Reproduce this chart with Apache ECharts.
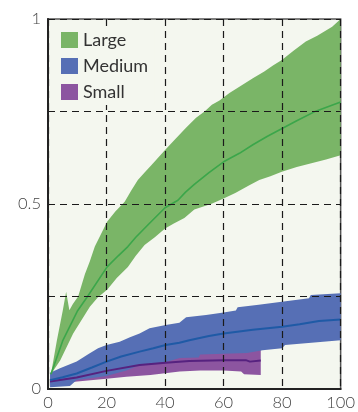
<!DOCTYPE html>
<html>
<head>
<meta charset="utf-8">
<script src="https://cdn.jsdelivr.net/npm/echarts@6/dist/echarts.min.js"></script>
<style>
html,body{margin:0;padding:0;background:#fff;}
#chart{width:358px;height:412px;}
</style>
</head>
<body>
<div id="chart"></div>
<script>
var seriesNames = ['Large', 'Medium', 'Small'];
var xTicks = [0, 20, 40, 60, 80, 100];
var yLabelValues = [0, 0.5, 1];

var largeUpper = [[1,0.04],[3,0.13],[5,0.21],[6.2,0.263],[7.3,0.213],[8.5,0.23],[10.3,0.25],[12.6,0.31],[14.3,0.345],[16,0.385],[20.2,0.452],[23,0.48],[26.2,0.506],[28.5,0.537],[30.7,0.565],[33,0.585],[35.3,0.605],[40,0.646],[43.2,0.673],[47,0.705],[50.6,0.733],[53.5,0.75],[56,0.768],[58.6,0.78],[62,0.80],[65.4,0.817],[70,0.84],[73.9,0.858],[77,0.875],[79.9,0.889],[84,0.915],[88.1,0.939],[92,0.955],[97.1,0.979],[100,1.0]];
var largeLower = [[1,0.04],[4.2,0.078],[8.6,0.15],[14.3,0.222],[17,0.247],[20.2,0.268],[23.5,0.3],[27.3,0.33],[30,0.36],[33,0.389],[36.5,0.41],[40,0.434],[43,0.447],[46.6,0.462],[50,0.485],[55.7,0.50],[60,0.515],[64,0.53],[68.8,0.551],[72.2,0.565],[76,0.575],[79.9,0.587],[85,0.60],[90,0.61],[95,0.62],[100,0.632]];
var largeMid = [[1,0.04],[5,0.13],[10,0.21],[13.5,0.25],[20.2,0.33],[24,0.36],[27.3,0.385],[30,0.41],[34.7,0.448],[40,0.49],[44.4,0.51],[47,0.532],[50,0.553],[55,0.585],[60,0.614],[65.4,0.637],[70,0.66],[75,0.683],[80,0.704],[85,0.725],[91.5,0.751],[100,0.776]];

var mediumUpper = [[0.7,0.044],[4.1,0.056],[9.8,0.074],[14,0.095],[17.1,0.11],[20,0.119],[24.5,0.128],[28,0.14],[31.3,0.15],[34.7,0.164],[40.2,0.173],[44.9,0.179],[47.2,0.194],[54,0.2],[60,0.207],[64.2,0.212],[64.8,0.221],[72,0.228],[79.9,0.236],[89.2,0.245],[89.8,0.254],[100,0.259]];
var mediumLower = [[0.7,0.005],[7.5,0.008],[9.8,0.024],[15,0.03],[20,0.035],[23,0.042],[26.8,0.05],[31.3,0.065],[40,0.072],[45,0.084],[51.5,0.085],[52,0.093],[68,0.097],[73.3,0.105],[80,0.11],[81,0.119],[90,0.125],[100,0.132]];
var mediumMid = [[0.7,0.024],[5,0.032],[9.8,0.042],[15,0.058],[20,0.074],[25,0.088],[31.3,0.101],[36,0.11],[40.2,0.119],[44.9,0.125],[48.3,0.132],[55,0.143],[60,0.15],[70,0.16],[80,0.168],[86,0.175],[92.6,0.184],[100,0.188]];

var smallUpper = [[0.7,0.03],[10,0.04],[20,0.055],[26.8,0.06],[31.3,0.07],[40,0.077],[45,0.088],[51.5,0.09],[52,0.098],[68,0.102],[72.7,0.106]];
var smallLower = [[0.7,0.012],[10,0.02],[20,0.028],[26.8,0.033],[35,0.038],[45,0.047],[52,0.05],[60,0.05],[66,0.047],[67,0.04],[72.7,0.038]];
var smallMid = [[0.7,0.02],[9.8,0.031],[20,0.049],[31.3,0.065],[40.2,0.071],[48.3,0.076],[60,0.078],[67.6,0.078],[69,0.074],[72.7,0.077]];

var bandColors = ['#7ab567', '#566fb5', '#8c55a0'];
var lineColors = ['#3ba64a', '#1f5aa6', '#56227f'];

function band(name, upper, lower, color, z) {
  return {
    name: name,
    type: 'custom',
    z: z,
    clip: true,
    itemStyle: { color: color },
    data: [[0, 0]],
    renderItem: function (params, api) {
      var pts = upper.map(function (p) { return api.coord(p); })
        .concat(lower.slice().reverse().map(function (p) { return api.coord(p); }));
      return { type: 'polygon', shape: { points: pts }, style: { fill: color } };
    }
  };
}
function mid(name, data, color, width) {
  return {
    name: name + ' mid',
    type: 'line',
    z: 6,
    data: data,
    showSymbol: false,
    symbol: 'none',
    silent: true,
    lineStyle: { color: color, width: width }
  };
}

var chart = echarts.init(document.getElementById('chart'));
chart.setOption({
  animation: false,
  textStyle: { fontFamily: 'Lato' },
  grid: { left: 48, right: 16, top: 19, bottom: 23, show: true, backgroundColor: '#f4f7ef', borderColor: '#555', borderWidth: 1.5 },
  legend: {
    data: seriesNames,
    orient: 'vertical',
    left: 57, top: 27, padding: [4, 6, 4, 4],
    z: 20,
    backgroundColor: '#f4f7ef',
    itemWidth: 17, itemHeight: 16, itemGap: 8,
    icon: 'rect',
    textStyle: { fontSize: 18, color: '#333', fontFamily: 'Lato' }
  },
  xAxis: {
    type: 'value', min: 0, max: 100, interval: 20, z: 10,
    axisLine: { show: true, lineStyle: { color: '#222', width: 2 } },
    axisTick: { show: false },
    axisLabel: { fontSize: 16.5, color: '#444', margin: 5, fontFamily: 'Lato', fontWeight: 300,
      formatter: function (v) { return xTicks.indexOf(v) >= 0 ? String(v) : ''; } },
    splitLine: { show: true, lineStyle: { color: '#1a1a1a', width: 1.2, type: [7, 5] } }
  },
  yAxis: {
    type: 'value', min: 0, max: 1, interval: 0.25, z: 10,
    axisLine: { show: true, lineStyle: { color: '#222', width: 2 } },
    axisTick: { show: false },
    axisLabel: { fontSize: 16.5, color: '#444', margin: 7, fontFamily: 'Lato', fontWeight: 300,
      formatter: function (v) { return yLabelValues.indexOf(v) >= 0 ? String(v) : ''; } },
    splitLine: { show: true, lineStyle: { color: '#1a1a1a', width: 1.2, type: [7, 5] } }
  },
  series: [
    band('Small', smallUpper, smallLower, bandColors[2], 1),
    band('Medium', mediumUpper, mediumLower, bandColors[1], 2),
    band('Large', largeUpper, largeLower, bandColors[0], 3),
    mid('Small', smallMid, lineColors[2], 2),
    mid('Medium', mediumMid, lineColors[1], 2),
    mid('Large', largeMid, lineColors[0], 1.6)
  ]
});
</script>
</body>
</html>
